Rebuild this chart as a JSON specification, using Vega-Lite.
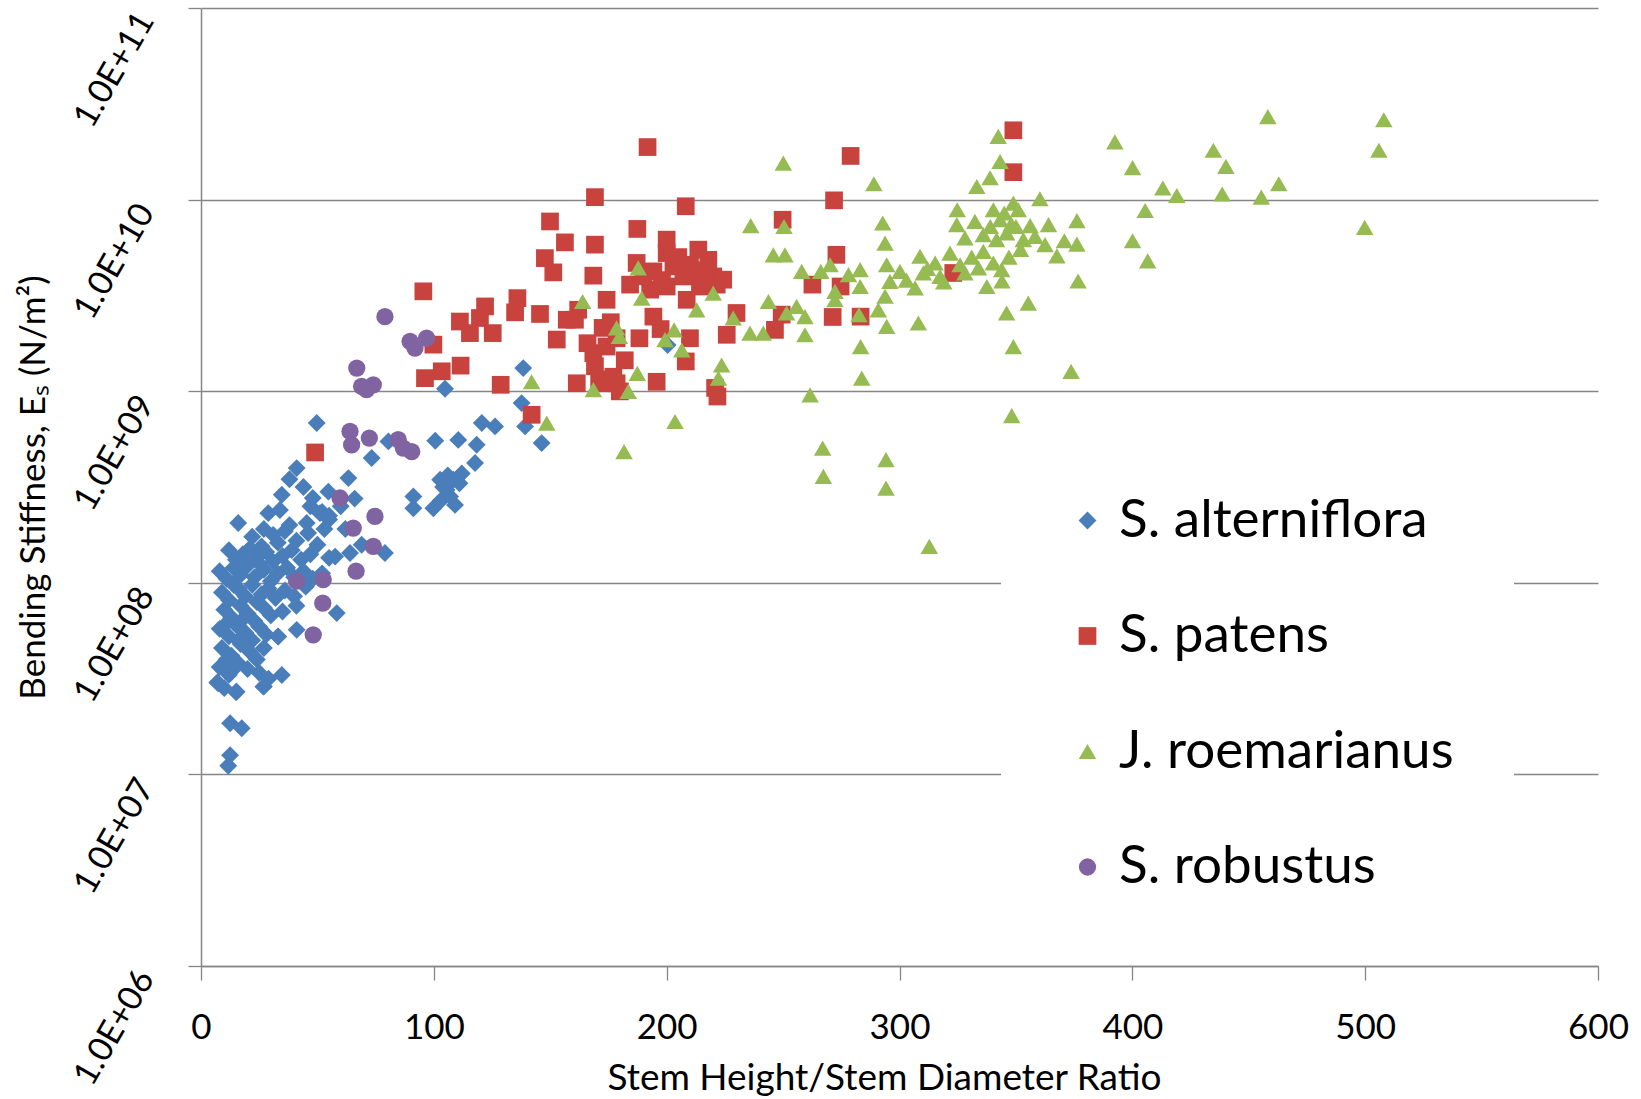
{
  "$schema": "https://vega.github.io/schema/vega-lite/v6.json",
  "width": 1397,
  "height": 958,
  "autosize": {"type": "none"},
  "padding": {"left": 201, "top": 8, "right": 43, "bottom": 133},
  "background": "white",
  "config": {"font": "Lato", "view": {"stroke": null}},
  "layer": [
    {
      "data": {
        "values": [
          {"species":"S. alterniflora","ratio":104.8,"es":1.03e9},{"species":"S. alterniflora","ratio":49.7,"es":6.82e8},{"species":"S. alterniflora","ratio":73.3,"es":4.48e8},{"species":"S. alterniflora","ratio":80.5,"es":5.47e8},{"species":"S. alterniflora","ratio":100.6,"es":5.51e8},{"species":"S. alterniflora","ratio":110.5,"es":5.57e8},{"species":"S. alterniflora","ratio":41.1,"es":3.97e8},{"species":"S. alterniflora","ratio":63.3,"es":3.52e8},{"species":"S. alterniflora","ratio":34.7,"es":2.88e8},{"species":"S. alterniflora","ratio":28.9,"es":2.31e8},
          {"species":"S. alterniflora","ratio":33.9,"es":2.40e8},{"species":"S. alterniflora","ratio":48,"es":2.77e8},{"species":"S. alterniflora","ratio":54.7,"es":2.99e8},{"species":"S. alterniflora","ratio":16,"es":2.05e8},{"species":"S. alterniflora","ratio":91.2,"es":2.82e8},{"species":"S. alterniflora","ratio":91.2,"es":2.45e8},{"species":"S. alterniflora","ratio":99.8,"es":2.45e8},{"species":"S. alterniflora","ratio":102.7,"es":3.45e8},{"species":"S. alterniflora","ratio":105.5,"es":3.05e8},{"species":"S. alterniflora","ratio":108.4,"es":3.45e8},
          {"species":"S. alterniflora","ratio":109.1,"es":2.55e8},{"species":"S. alterniflora","ratio":51.1,"es":2.31e8},{"species":"S. alterniflora","ratio":45.4,"es":2.05e8},{"species":"S. alterniflora","ratio":57.6,"es":1.37e8},{"species":"S. alterniflora","ratio":64,"es":1.43e8},{"species":"S. alterniflora","ratio":79,"es":1.43e8},{"species":"S. alterniflora","ratio":58.3,"es":6.95e7},{"species":"S. alterniflora","ratio":41.1,"es":5.68e7},{"species":"S. alterniflora","ratio":33.2,"es":5.24e7},{"species":"S. alterniflora","ratio":34.7,"es":3.30e7},
          {"species":"S. alterniflora","ratio":9.6,"es":5.92e7},{"species":"S. alterniflora","ratio":15.3,"es":2.70e7},{"species":"S. alterniflora","ratio":7.4,"es":2.99e7},{"species":"S. alterniflora","ratio":26.8,"es":2.87e7},{"species":"S. alterniflora","ratio":12.5,"es":1.85e7},{"species":"S. alterniflora","ratio":17.5,"es":1.74e7},{"species":"S. alterniflora","ratio":12.5,"es":1.26e7},{"species":"S. alterniflora","ratio":11.7,"es":1.11e7},{"species":"S. alterniflora","ratio":138.4,"es":1.32e9},{"species":"S. alterniflora","ratio":137.7,"es":8.67e8},
          {"species":"S. alterniflora","ratio":139.2,"es":6.55e8},{"species":"S. alterniflora","ratio":146.3,"es":5.36e8},{"species":"S. alterniflora","ratio":120.6,"es":6.82e8},{"species":"S. alterniflora","ratio":126.3,"es":6.55e8},{"species":"S. alterniflora","ratio":118.4,"es":5.25e8},{"species":"S. alterniflora","ratio":117.7,"es":4.22e8},{"species":"S. alterniflora","ratio":104,"es":3.16e8},{"species":"S. alterniflora","ratio":107,"es":2.82e8},{"species":"S. alterniflora","ratio":111,"es":3.31e8},{"species":"S. alterniflora","ratio":112,"es":3.72e8},
          {"species":"S. alterniflora","ratio":106,"es":3.63e8},{"species":"S. alterniflora","ratio":103,"es":2.69e8},{"species":"S. alterniflora","ratio":200.4,"es":1.74e9},{"species":"S. alterniflora","ratio":60,"es":2.51e8},{"species":"S. alterniflora","ratio":66,"es":2.75e8},{"species":"S. alterniflora","ratio":55,"es":2.14e8},{"species":"S. alterniflora","ratio":69,"es":1.58e8},{"species":"S. alterniflora","ratio":62,"es":1.91e8},{"species":"S. alterniflora","ratio":44,"es":3.16e8},{"species":"S. alterniflora","ratio":38,"es":3.47e8},
          {"species":"S. alterniflora","ratio":47,"es":2.51e8},{"species":"S. alterniflora","ratio":52,"es":2.34e8},{"species":"S. alterniflora","ratio":55,"es":2.24e8},
          {"species":"S. alterniflora","ratio":27,"es":1.91e8},{"species":"S. alterniflora","ratio":31,"es":1.78e8},{"species":"S. alterniflora","ratio":36,"es":1.86e8},{"species":"S. alterniflora","ratio":41,"es":1.66e8},{"species":"S. alterniflora","ratio":46,"es":1.82e8},{"species":"S. alterniflora","ratio":50,"es":1.58e8},{"species":"S. alterniflora","ratio":33,"es":1.62e8},{"species":"S. alterniflora","ratio":22,"es":1.74e8},{"species":"S. alterniflora","ratio":38,"es":2.00e8},{"species":"S. alterniflora","ratio":53,"es":1.91e8},
          {"species":"S. alterniflora","ratio":12,"es":1.48e8},{"species":"S. alterniflora","ratio":15,"es":1.32e8},{"species":"S. alterniflora","ratio":18,"es":1.41e8},{"species":"S. alterniflora","ratio":21,"es":1.51e8},{"species":"S. alterniflora","ratio":24,"es":1.35e8},{"species":"S. alterniflora","ratio":28,"es":1.45e8},{"species":"S. alterniflora","ratio":31,"es":1.29e8},{"species":"S. alterniflora","ratio":35,"es":1.38e8},{"species":"S. alterniflora","ratio":39,"es":1.48e8},{"species":"S. alterniflora","ratio":43,"es":1.32e8},{"species":"S. alterniflora","ratio":47,"es":1.41e8},{"species":"S. alterniflora","ratio":26,"es":1.55e8},{"species":"S. alterniflora","ratio":55,"es":1.35e8},
          {"species":"S. alterniflora","ratio":8,"es":1.15e8},{"species":"S. alterniflora","ratio":11,"es":1.05e8},{"species":"S. alterniflora","ratio":14,"es":1.20e8},{"species":"S. alterniflora","ratio":17,"es":1.10e8},{"species":"S. alterniflora","ratio":20,"es":1.23e8},{"species":"S. alterniflora","ratio":23,"es":1.07e8},{"species":"S. alterniflora","ratio":27,"es":1.17e8},{"species":"S. alterniflora","ratio":30,"es":1.02e8},{"species":"S. alterniflora","ratio":33,"es":1.12e8},{"species":"S. alterniflora","ratio":37,"es":1.20e8},{"species":"S. alterniflora","ratio":40,"es":1.07e8},{"species":"S. alterniflora","ratio":44,"es":1.15e8},{"species":"S. alterniflora","ratio":48,"es":1.05e8},{"species":"S. alterniflora","ratio":52,"es":1.12e8},{"species":"S. alterniflora","ratio":25,"es":1.26e8},
          {"species":"S. alterniflora","ratio":9,"es":8.91e7},{"species":"S. alterniflora","ratio":12,"es":8.13e7},{"species":"S. alterniflora","ratio":16,"es":9.33e7},{"species":"S. alterniflora","ratio":19,"es":8.51e7},{"species":"S. alterniflora","ratio":22,"es":9.77e7},{"species":"S. alterniflora","ratio":26,"es":8.71e7},{"species":"S. alterniflora","ratio":29,"es":9.33e7},{"species":"S. alterniflora","ratio":32,"es":8.32e7},{"species":"S. alterniflora","ratio":36,"es":9.12e7},{"species":"S. alterniflora","ratio":40,"es":8.51e7},{"species":"S. alterniflora","ratio":45,"es":9.55e7},{"species":"S. alterniflora","ratio":14,"es":9.77e7},{"species":"S. alterniflora","ratio":24,"es":7.94e7},
          {"species":"S. alterniflora","ratio":10,"es":7.24e7},{"species":"S. alterniflora","ratio":13,"es":6.61e7},{"species":"S. alterniflora","ratio":17,"es":7.59e7},{"species":"S. alterniflora","ratio":20,"es":6.92e7},{"species":"S. alterniflora","ratio":23,"es":6.31e7},{"species":"S. alterniflora","ratio":27,"es":7.41e7},{"species":"S. alterniflora","ratio":30,"es":6.76e7},{"species":"S. alterniflora","ratio":35,"es":7.08e7},{"species":"S. alterniflora","ratio":41,"es":7.59e7},{"species":"S. alterniflora","ratio":18,"es":6.46e7},
          {"species":"S. alterniflora","ratio":8,"es":5.75e7},{"species":"S. alterniflora","ratio":12,"es":5.25e7},{"species":"S. alterniflora","ratio":15,"es":6.03e7},{"species":"S. alterniflora","ratio":19,"es":5.50e7},{"species":"S. alterniflora","ratio":22,"es":5.01e7},{"species":"S. alterniflora","ratio":25,"es":5.89e7},{"species":"S. alterniflora","ratio":28,"es":5.37e7},{"species":"S. alterniflora","ratio":33,"es":5.25e7},{"species":"S. alterniflora","ratio":16,"es":5.01e7},
          {"species":"S. alterniflora","ratio":9,"es":4.57e7},{"species":"S. alterniflora","ratio":13,"es":4.17e7},{"species":"S. alterniflora","ratio":17,"es":4.79e7},{"species":"S. alterniflora","ratio":21,"es":4.37e7},{"species":"S. alterniflora","ratio":24,"es":3.98e7},{"species":"S. alterniflora","ratio":27,"es":4.57e7},{"species":"S. alterniflora","ratio":11,"es":3.98e7},
          {"species":"S. alterniflora","ratio":8,"es":3.63e7},{"species":"S. alterniflora","ratio":12,"es":3.31e7},{"species":"S. alterniflora","ratio":16,"es":3.80e7},{"species":"S. alterniflora","ratio":20,"es":3.55e7},{"species":"S. alterniflora","ratio":25,"es":3.39e7},{"species":"S. alterniflora","ratio":29,"es":3.16e7},{"species":"S. alterniflora","ratio":14,"es":3.55e7},
          {"species":"S. alterniflora","ratio":7,"es":3.02e7},{"species":"S. alterniflora","ratio":15,"es":2.69e7},{"species":"S. alterniflora","ratio":27,"es":2.88e7},{"species":"S. alterniflora","ratio":10,"es":2.82e7},

          {"species":"S. patens","ratio":191.8,"es":1.88e10},{"species":"S. patens","ratio":169.2,"es":1.03e10},{"species":"S. patens","ratio":208.2,"es":9.23e9},{"species":"S. patens","ratio":149.9,"es":7.69e9},{"species":"S. patens","ratio":156.3,"es":5.98e9},{"species":"S. patens","ratio":169.2,"es":5.82e9},{"species":"S. patens","ratio":187.4,"es":7.03e9},{"species":"S. patens","ratio":147.7,"es":4.95e9},{"species":"S. patens","ratio":151.3,"es":4.17e9},{"species":"S. patens","ratio":168.5,"es":4.01e9},
          {"species":"S. patens","ratio":200,"es":6.18e9},{"species":"S. patens","ratio":200,"es":5.26e9},{"species":"S. patens","ratio":213.6,"es":5.48e9},{"species":"S. patens","ratio":217.9,"es":4.85e9},{"species":"S. patens","ratio":187.1,"es":4.67e9},{"species":"S. patens","ratio":194.3,"es":4.22e9},{"species":"S. patens","ratio":202.9,"es":4.48e9},{"species":"S. patens","ratio":207.2,"es":3.97e9},{"species":"S. patens","ratio":212.9,"es":4.14e9},{"species":"S. patens","ratio":220,"es":3.97e9},
          {"species":"S. patens","ratio":221.5,"es":3.60e9},{"species":"S. patens","ratio":184.3,"es":3.60e9},{"species":"S. patens","ratio":192.9,"es":3.39e9},{"species":"S. patens","ratio":200,"es":3.52e9},{"species":"S. patens","ratio":208.6,"es":3.00e9},{"species":"S. patens","ratio":214.3,"es":3.52e9},{"species":"S. patens","ratio":174.2,"es":3.00e9},{"species":"S. patens","ratio":162,"es":2.66e9},{"species":"S. patens","ratio":145.6,"es":2.53e9},{"species":"S. patens","ratio":135.9,"es":3.06e9},
          {"species":"S. patens","ratio":134.9,"es":2.58e9},{"species":"S. patens","ratio":122,"es":2.77e9},{"species":"S. patens","ratio":119.8,"es":2.41e9},{"species":"S. patens","ratio":111.2,"es":2.31e9},{"species":"S. patens","ratio":115.5,"es":2.01e9},{"species":"S. patens","ratio":125.3,"es":2.01e9},{"species":"S. patens","ratio":95.5,"es":3.32e9},{"species":"S. patens","ratio":99.8,"es":1.75e9},{"species":"S. patens","ratio":96.2,"es":1.17e9},{"species":"S. patens","ratio":103.4,"es":1.27e9},
          {"species":"S. patens","ratio":111.5,"es":1.36e9},{"species":"S. patens","ratio":128.7,"es":1.08e9},{"species":"S. patens","ratio":142,"es":7.53e8},{"species":"S. patens","ratio":157.1,"es":2.36e9},{"species":"S. patens","ratio":152.8,"es":1.86e9},{"species":"S. patens","ratio":160.6,"es":2.36e9},{"species":"S. patens","ratio":172.5,"es":2.14e9},{"species":"S. patens","ratio":168.5,"es":1.58e9},{"species":"S. patens","ratio":169.2,"es":1.35e9},{"species":"S. patens","ratio":174.2,"es":1.71e9},
          {"species":"S. patens","ratio":161.4,"es":1.10e9},{"species":"S. patens","ratio":172.1,"es":1.10e9},{"species":"S. patens","ratio":178.5,"es":1.10e9},{"species":"S. patens","ratio":179.9,"es":9.98e8},{"species":"S. patens","ratio":177.1,"es":1.19e9},{"species":"S. patens","ratio":188.3,"es":1.89e9},{"species":"S. patens","ratio":194.3,"es":2.45e9},{"species":"S. patens","ratio":197.4,"es":2.11e9},{"species":"S. patens","ratio":195.7,"es":1.12e9},{"species":"S. patens","ratio":210,"es":1.89e9},
          {"species":"S. patens","ratio":208.2,"es":1.43e9},{"species":"S. patens","ratio":225.8,"es":1.97e9},{"species":"S. patens","ratio":220.8,"es":1.04e9},{"species":"S. patens","ratio":221.8,"es":9.38e8},{"species":"S. patens","ratio":230,"es":2.56e9},{"species":"S. patens","ratio":178.5,"es":1.89e9},{"species":"S. patens","ratio":49,"es":4.79e8},{"species":"S. patens","ratio":348.9,"es":2.30e10},{"species":"S. patens","ratio":348.9,"es":1.39e10},{"species":"S. patens","ratio":279,"es":1.69e10},
          {"species":"S. patens","ratio":271.9,"es":9.91e9},{"species":"S. patens","ratio":249.8,"es":7.85e9},{"species":"S. patens","ratio":272.9,"es":5.15e9},{"species":"S. patens","ratio":262.6,"es":3.60e9},{"species":"S. patens","ratio":274.7,"es":3.52e9},{"species":"S. patens","ratio":249.4,"es":2.51e9},{"species":"S. patens","ratio":246.5,"es":2.09e9},{"species":"S. patens","ratio":271.3,"es":2.44e9},{"species":"S. patens","ratio":283.3,"es":2.45e9},{"species":"S. patens","ratio":323.1,"es":4.14e9},
          {"species":"S. patens","ratio":224.3,"es":3.82e9},{"species":"S. patens","ratio":205,"es":5.01e9},{"species":"S. patens","ratio":210,"es":4.57e9},{"species":"S. patens","ratio":198,"es":3.80e9},{"species":"S. patens","ratio":216,"es":4.27e9},{"species":"S. patens","ratio":190,"es":3.98e9},{"species":"S. patens","ratio":166,"es":1.78e9},{"species":"S. patens","ratio":171,"es":1.15e9},{"species":"S. patens","ratio":182,"es":1.45e9},{"species":"S. patens","ratio":176,"es":2.29e9},

          {"species":"J. roemarianus","ratio":187.8,"es":4.40e9},{"species":"J. roemarianus","ratio":189.3,"es":3.06e9},{"species":"J. roemarianus","ratio":163.9,"es":2.94e9},{"species":"J. roemarianus","ratio":220,"es":3.25e9},{"species":"J. roemarianus","ratio":212.9,"es":2.66e9},{"species":"J. roemarianus","ratio":228.6,"es":2.41e9},{"species":"J. roemarianus","ratio":178.5,"es":2.14e9},{"species":"J. roemarianus","ratio":179.7,"es":1.93e9},{"species":"J. roemarianus","ratio":203.2,"es":2.09e9},{"species":"J. roemarianus","ratio":199.3,"es":1.86e9},
          {"species":"J. roemarianus","ratio":206.5,"es":1.64e9},{"species":"J. roemarianus","ratio":187.4,"es":1.24e9},{"species":"J. roemarianus","ratio":183.5,"es":9.98e8},{"species":"J. roemarianus","ratio":168.5,"es":1.02e9},{"species":"J. roemarianus","ratio":223.6,"es":1.37e9},{"species":"J. roemarianus","ratio":222.2,"es":1.17e9},{"species":"J. roemarianus","ratio":142,"es":1.12e9},{"species":"J. roemarianus","ratio":148.5,"es":6.82e8},{"species":"J. roemarianus","ratio":203.6,"es":6.95e8},{"species":"J. roemarianus","ratio":181.7,"es":4.84e8},
          {"species":"J. roemarianus","ratio":342.4,"es":2.14e10},{"species":"J. roemarianus","ratio":343.2,"es":1.58e10},{"species":"J. roemarianus","ratio":338.9,"es":1.30e10},{"species":"J. roemarianus","ratio":333.2,"es":1.17e10},{"species":"J. roemarianus","ratio":250.1,"es":1.55e10},{"species":"J. roemarianus","ratio":289,"es":1.21e10},{"species":"J. roemarianus","ratio":360.3,"es":1.01e10},{"species":"J. roemarianus","ratio":324.8,"es":8.85e9},{"species":"J. roemarianus","ratio":348.9,"es":9.59e9},{"species":"J. roemarianus","ratio":351,"es":8.85e9},
          {"species":"J. roemarianus","ratio":340.3,"es":8.85e9},{"species":"J. roemarianus","ratio":236.1,"es":7.31e9},{"species":"J. roemarianus","ratio":250.4,"es":7.24e9},{"species":"J. roemarianus","ratio":292.8,"es":7.55e9},{"species":"J. roemarianus","ratio":293.8,"es":5.93e9},{"species":"J. roemarianus","ratio":324.6,"es":7.40e9},{"species":"J. roemarianus","ratio":332.4,"es":7.69e9},{"species":"J. roemarianus","ratio":343.2,"es":7.85e9},{"species":"J. roemarianus","ratio":356.1,"es":7.31e9},{"species":"J. roemarianus","ratio":364,"es":7.40e9},
          {"species":"J. roemarianus","ratio":328.1,"es":6.31e9},{"species":"J. roemarianus","ratio":336,"es":6.56e9},{"species":"J. roemarianus","ratio":341.7,"es":6.18e9},{"species":"J. roemarianus","ratio":346,"es":6.70e9},{"species":"J. roemarianus","ratio":353.2,"es":6.18e9},{"species":"J. roemarianus","ratio":358.2,"es":6.43e9},{"species":"J. roemarianus","ratio":362.5,"es":5.82e9},{"species":"J. roemarianus","ratio":245.8,"es":5.15e9},{"species":"J. roemarianus","ratio":250.8,"es":5.15e9},{"species":"J. roemarianus","ratio":258,"es":4.22e9},
          {"species":"J. roemarianus","ratio":266.2,"es":4.22e9},{"species":"J. roemarianus","ratio":270.2,"es":4.57e9},{"species":"J. roemarianus","ratio":278.1,"es":4.06e9},{"species":"J. roemarianus","ratio":283.1,"es":4.31e9},{"species":"J. roemarianus","ratio":283.1,"es":3.52e9},{"species":"J. roemarianus","ratio":272.3,"es":3.32e9},{"species":"J. roemarianus","ratio":272.3,"es":3.00e9},{"species":"J. roemarianus","ratio":294.5,"es":4.57e9},{"species":"J. roemarianus","ratio":300.2,"es":4.22e9},{"species":"J. roemarianus","ratio":295.9,"es":3.74e9},
          {"species":"J. roemarianus","ratio":308.8,"es":5.06e9},{"species":"J. roemarianus","ratio":310.2,"es":4.14e9},{"species":"J. roemarianus","ratio":306.7,"es":3.46e9},{"species":"J. roemarianus","ratio":315.3,"es":4.67e9},{"species":"J. roemarianus","ratio":321.7,"es":5.26e9},{"species":"J. roemarianus","ratio":317.4,"es":3.97e9},{"species":"J. roemarianus","ratio":328.1,"es":4.14e9},{"species":"J. roemarianus","ratio":333.9,"es":4.40e9},{"species":"J. roemarianus","ratio":340.3,"es":4.67e9},{"species":"J. roemarianus","ratio":343.9,"es":4.31e9},
          {"species":"J. roemarianus","ratio":337.5,"es":3.52e9},{"species":"J. roemarianus","ratio":293.8,"es":3.13e9},{"species":"J. roemarianus","ratio":290.9,"es":2.66e9},{"species":"J. roemarianus","ratio":294.5,"es":2.18e9},{"species":"J. roemarianus","ratio":308.1,"es":2.27e9},{"species":"J. roemarianus","ratio":346,"es":2.56e9},{"species":"J. roemarianus","ratio":355.3,"es":2.88e9},{"species":"J. roemarianus","ratio":348.9,"es":1.71e9},{"species":"J. roemarianus","ratio":348.2,"es":7.45e8},{"species":"J. roemarianus","ratio":283.3,"es":1.71e9},
          {"species":"J. roemarianus","ratio":283.8,"es":1.17e9},{"species":"J. roemarianus","ratio":261.6,"es":9.57e8},{"species":"J. roemarianus","ratio":267,"es":5.05e8},{"species":"J. roemarianus","ratio":267.3,"es":3.59e8},{"species":"J. roemarianus","ratio":294.2,"es":4.39e8},{"species":"J. roemarianus","ratio":294.2,"es":3.12e8},{"species":"J. roemarianus","ratio":312.8,"es":1.55e8},{"species":"J. roemarianus","ratio":243.7,"es":2.94e9},{"species":"J. roemarianus","ratio":255.8,"es":2.77e9},{"species":"J. roemarianus","ratio":259.4,"es":2.45e9},
          {"species":"J. roemarianus","ratio":251.5,"es":2.56e9},{"species":"J. roemarianus","ratio":235.8,"es":2.01e9},{"species":"J. roemarianus","ratio":241.5,"es":2.01e9},{"species":"J. roemarianus","ratio":259.4,"es":1.97e9},{"species":"J. roemarianus","ratio":458.2,"es":2.71e10},{"species":"J. roemarianus","ratio":508,"es":2.61e10},{"species":"J. roemarianus","ratio":392.5,"es":2.00e10},{"species":"J. roemarianus","ratio":434.8,"es":1.81e10},{"species":"J. roemarianus","ratio":505.9,"es":1.81e10},{"species":"J. roemarianus","ratio":400.1,"es":1.47e10},
          {"species":"J. roemarianus","ratio":440.2,"es":1.49e10},{"species":"J. roemarianus","ratio":462.9,"es":1.21e10},{"species":"J. roemarianus","ratio":413.1,"es":1.15e10},{"species":"J. roemarianus","ratio":419.1,"es":1.05e10},{"species":"J. roemarianus","ratio":438.6,"es":1.07e10},{"species":"J. roemarianus","ratio":455.4,"es":1.03e10},{"species":"J. roemarianus","ratio":405.5,"es":8.77e9},{"species":"J. roemarianus","ratio":499.8,"es":7.16e9},{"species":"J. roemarianus","ratio":400.1,"es":6.10e9},{"species":"J. roemarianus","ratio":406.6,"es":4.79e9},
          {"species":"J. roemarianus","ratio":376.7,"es":3.76e9},{"species":"J. roemarianus","ratio":373.7,"es":1.27e9},{"species":"J. roemarianus","ratio":376.2,"es":7.76e9},{"species":"J. roemarianus","ratio":376.2,"es":5.86e9},{"species":"J. roemarianus","ratio":370.8,"es":6.10e9},{"species":"J. roemarianus","ratio":367.6,"es":5.09e9},{"species":"J. roemarianus","ratio":282.6,"es":2.51e9},{"species":"J. roemarianus","ratio":344,"es":3.76e9},{"species":"J. roemarianus","ratio":348,"es":7.46e9},{"species":"J. roemarianus","ratio":312,"es":4.37e9},
          {"species":"J. roemarianus","ratio":326,"es":4.57e9},{"species":"J. roemarianus","ratio":331,"es":5.01e9},{"species":"J. roemarianus","ratio":336,"es":5.37e9},{"species":"J. roemarianus","ratio":319,"es":3.72e9},{"species":"J. roemarianus","ratio":303,"es":3.80e9},{"species":"J. roemarianus","ratio":347,"es":5.01e9},{"species":"J. roemarianus","ratio":352,"es":5.50e9},{"species":"J. roemarianus","ratio":345,"es":8.51e9},{"species":"J. roemarianus","ratio":350,"es":7.24e9},{"species":"J. roemarianus","ratio":339,"es":7.24e9},

          {"species":"S. robustus","ratio":79,"es":2.45e9},{"species":"S. robustus","ratio":89.8,"es":1.82e9},{"species":"S. robustus","ratio":96.9,"es":1.89e9},{"species":"S. robustus","ratio":91.9,"es":1.68e9},{"species":"S. robustus","ratio":66.9,"es":1.32e9},{"species":"S. robustus","ratio":69,"es":1.06e9},{"species":"S. robustus","ratio":74,"es":1.08e9},{"species":"S. robustus","ratio":71.1,"es":1.02e9},{"species":"S. robustus","ratio":64,"es":6.17e8},{"species":"S. robustus","ratio":64.7,"es":5.25e8},
          {"species":"S. robustus","ratio":72.3,"es":5.69e8},{"species":"S. robustus","ratio":84.7,"es":5.58e8},{"species":"S. robustus","ratio":86.9,"es":5.05e8},{"species":"S. robustus","ratio":90.5,"es":4.84e8},{"species":"S. robustus","ratio":59.7,"es":2.77e8},{"species":"S. robustus","ratio":74.7,"es":2.22e8},{"species":"S. robustus","ratio":65.4,"es":1.93e8},{"species":"S. robustus","ratio":74,"es":1.55e8},{"species":"S. robustus","ratio":66.6,"es":1.15e8},{"species":"S. robustus","ratio":52.5,"es":1.04e8},
          {"species":"S. robustus","ratio":41.1,"es":1.02e8},{"species":"S. robustus","ratio":52.3,"es":7.83e7},{"species":"S. robustus","ratio":48.2,"es":5.35e7}
        ]
      },
      "mark": {"type": "point", "filled": true, "opacity": 1, "strokeWidth": 0},
      "encoding": {
        "x": {
          "field": "ratio", "type": "quantitative",
          "scale": {"domain": [0, 600], "nice": false, "zero": false},
          "axis": {
            "values": [0, 100, 200, 300, 400, 500, 600],
            "grid": false,
            "tickSize": 14, "tickColor": "#868686", "tickWidth": 1.3,
            "domainColor": "#868686", "domainWidth": 1.5,
            "labelFont": "Lato", "labelFontSize": 35, "labelColor": "#000000",
            "labelPadding": 47, "labelBaseline": "middle", "labelFlush": false, "labelOverlap": false,
            "title": "Stem Height/Stem Diameter Ratio",
            "titleFont": "Lato", "titleFontSize": 37, "titleFontWeight": "normal", "titleColor": "#000000",
            "titleX": 683, "titleY": 112, "titleAlign": "center", "titleBaseline": "middle"
          }
        },
        "y": {
          "field": "es", "type": "quantitative",
          "scale": {"type": "log", "domain": [1e6, 1e11], "nice": false},
          "axis": {
            "values": [1e6, 1e7, 1e8, 1e9, 1e10, 1e11],
            "labelExpr": "'1.0E+' + (round(log(datum.value)/LN10) < 10 ? '0' : '') + round(log(datum.value)/LN10)",
            "grid": true, "gridColor": "#868686", "gridWidth": 1.3,
            "tickSize": 13, "tickColor": "#868686", "tickWidth": 1.3,
            "domainColor": "#868686", "domainWidth": 1.5,
            "labelFont": "Lato", "labelFontSize": 34, "labelColor": "#000000",
            "labelAngle": -60, "labelAlign": "right", "labelBaseline": "middle",
            "labelPadding": 42, "labelOffset": 7, "labelFlush": false, "labelOverlap": false,
            "title": "Bending Stiffness, Eₛ (N/m²)",
            "titleFont": "Lato", "titleFontSize": 35, "titleFontWeight": "normal", "titleColor": "#000000",
            "titleX": -168, "titleY": 479, "titleAngle": -90, "titleAlign": "center", "titleBaseline": "middle"
          }
        },
        "color": {
          "field": "species", "type": "nominal",
          "scale": {"domain": ["S. alterniflora", "S. patens", "J. roemarianus", "S. robustus"], "range": ["#4A7EBB", "#C8423E", "#96BB52", "#8064A2"]},
          "legend": {
            "title": null, "orient": "none", "legendX": 800, "legendY": 426,
            "fillColor": "#FFFFFF", "padding": 60, "symbolSize": 200, "symbolStrokeWidth": 0,
            "labelFont": "Lato", "labelFontSize": 53, "labelColor": "#000000", "labelOffset": 5,
            "rowPadding": 61.5, "labelLimit": 600
          }
        },
        "shape": {
          "field": "species", "type": "nominal",
          "scale": {"domain": ["S. alterniflora", "S. patens", "J. roemarianus", "S. robustus"], "range": ["diamond", "square", "triangle-up", "circle"]}
        },
        "size": {
          "field": "species", "type": "nominal", "legend": null,
          "scale": {"domain": ["S. alterniflora", "S. patens", "J. roemarianus", "S. robustus"], "range": [320, 300, 370, 260]}
        }
      }
    }
  ]
}
